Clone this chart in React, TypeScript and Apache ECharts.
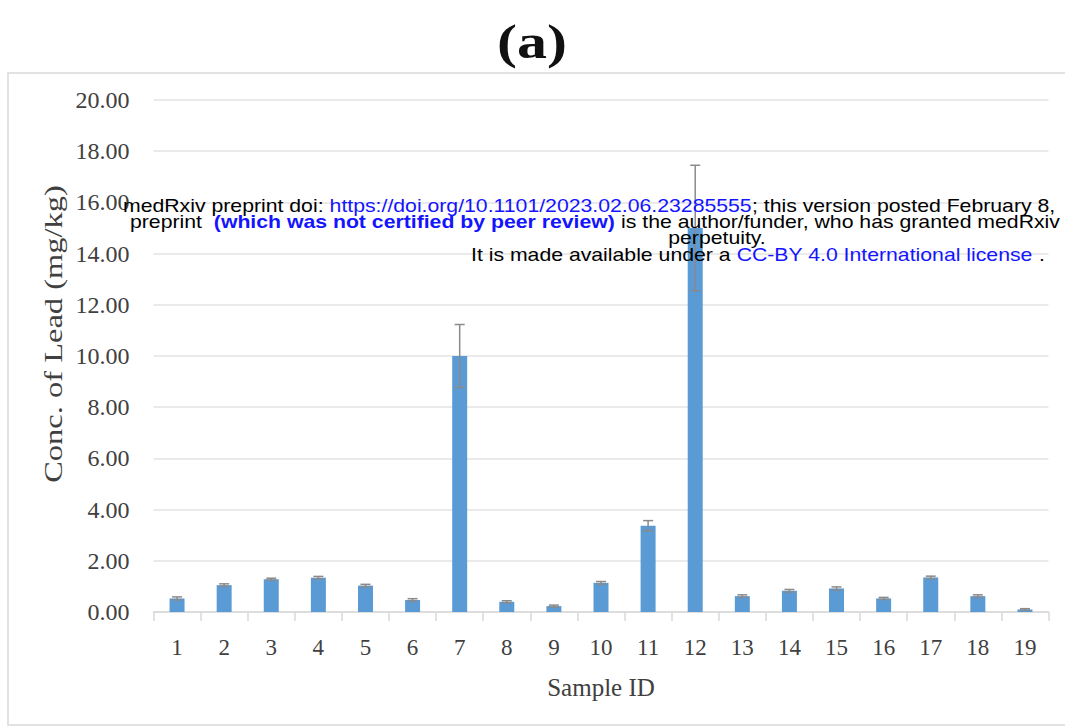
import React, { useEffect, useRef } from "react";
import * as echarts from "echarts";

const sampleIds = ["1","2","3","4","5","6","7","8","9","10","11","12","13","14","15","16","17","18","19"];
const leadConc = [0.53, 1.05, 1.28, 1.34, 1.03, 0.47, 10.0, 0.4, 0.23, 1.14, 3.37, 15.0, 0.62, 0.83, 0.92, 0.53, 1.35, 0.62, 0.1];
const leadErr = [0.06, 0.05, 0.04, 0.05, 0.05, 0.05, 1.23, 0.04, 0.04, 0.05, 0.2, 2.45, 0.05, 0.05, 0.06, 0.04, 0.05, 0.05, 0.03];
const yTicks = { min: 0, max: 20, interval: 2 };

const title = "(a)";
const xName = "Sample ID";
const yName = "Conc. of Lead (mg/kg)";

export default function App() {
  const ref = useRef<HTMLDivElement>(null);
  useEffect(() => {
    document.body.style.margin = "0";
    const chart = echarts.init(ref.current!, null, { renderer: "svg" });
    const serif = "'Liberation Serif', 'Times New Roman', serif";
    const sans = "'Liberation Sans', Arial, sans-serif";
    const blue = "#1414ff";
    const fs = 18;
    const sx = 1.18;
    chart.setOption({
      animation: false,
      backgroundColor: "#ffffff",
      grid: { left: 153.5, right: 16.5, top: 100, bottom: 115 },
      xAxis: {
        type: "category",
        data: sampleIds,
        name: xName,
        nameLocation: "middle",
        nameGap: 63,
        nameTextStyle: { fontFamily: serif, fontSize: 25, color: "#404040" },
        axisLine: { lineStyle: { color: "#d9d9d9", width: 1.5 } },
        axisTick: { show: true, length: 9, lineStyle: { color: "#d9d9d9", width: 1.5 } },
        axisLabel: { fontFamily: serif, fontSize: 23, color: "#404040", margin: 24 },
      },
      yAxis: {
        type: "value",
        min: yTicks.min,
        max: yTicks.max,
        interval: yTicks.interval,
        axisLine: { show: false },
        axisTick: { show: false },
        axisLabel: {
          fontFamily: serif,
          fontSize: 24,
          color: "#404040",
          margin: 24,
          formatter: (v: number) => v.toFixed(2),
        },
        splitLine: { lineStyle: { color: "#e3e3e3", width: 1.5 } },
      },
      series: [
        {
          type: "bar",
          data: leadConc,
          barWidth: 15,
          itemStyle: { color: "#5b9bd5" },
          z: 2,
        },
        {
          type: "custom",
          data: leadConc.map((v, i) => [i, v, leadErr[i]]),
          encode: { x: 0, y: 1 },
          z: 3,
          renderItem: (params: any, api: any) => {
            const x = api.value(0);
            const v = api.value(1);
            const e = api.value(2);
            const hi = api.coord([x, v + e]);
            const lo = api.coord([x, v - e]);
            const hw = 5;
            const st = { stroke: "#8a8a8a", lineWidth: 1.5 };
            return {
              type: "group",
              children: [
                { type: "line", shape: { x1: hi[0], y1: hi[1], x2: lo[0], y2: lo[1] }, style: st },
                { type: "line", shape: { x1: hi[0] - hw, y1: hi[1], x2: hi[0] + hw, y2: hi[1] }, style: st },
                { type: "line", shape: { x1: lo[0] - hw, y1: lo[1], x2: lo[0] + hw, y2: lo[1] }, style: st },
              ],
            };
          },
        },
      ],
      graphic: [
        {
          type: "rect",
          shape: { x: 8, y: 73, width: 1070, height: 652 },
          style: { fill: "none", stroke: "#d9d9d9", lineWidth: 1.5 },
          z: 0,
        },
        {
          type: "text",
          x: 532,
          y: 42,
          scaleX: 1.25,
          style: {
            text: title,
            font: `bold 48px ${serif}`,
            fill: "#111111",
            textAlign: "center",
            textVerticalAlign: "middle",
          },
          z: 10,
        },
        {
          type: "text",
          x: 53,
          y: 334,
          rotation: Math.PI / 2,
          scaleX: 1.3,
          style: {
            text: yName,
            font: `25px ${serif}`,
            fill: "#404040",
            textAlign: "center",
            textVerticalAlign: "middle",
          },
          z: 10,
        },
        {
          type: "text",
          x: 123,
          y: 206,
          scaleX: sx,
          z: 100,
          style: {
            text: "{k|medRxiv preprint doi: }{l|https://doi.org/10.1101/2023.02.06.23285555}{k|; this version posted February 8,}",
            textVerticalAlign: "middle",
            rich: {
              k: { fontFamily: sans, fontSize: fs, fill: "#000000", color: "#000000" },
              l: { fontFamily: sans, fontSize: fs, fill: blue, color: blue },
            },
          },
        },
        {
          type: "text",
          x: 130,
          y: 222,
          scaleX: sx,
          z: 100,
          style: {
            text: "{k|preprint  }{b|(which was not certified by peer review)}{k| is the author/funder, who has granted medRxiv}",
            textVerticalAlign: "middle",
            rich: {
              k: { fontFamily: sans, fontSize: fs, fill: "#000000", color: "#000000" },
              b: { fontFamily: sans, fontSize: fs, fontWeight: "bold", fill: blue, color: blue },
            },
          },
        },
        {
          type: "text",
          x: 717,
          y: 238,
          scaleX: sx,
          z: 100,
          style: {
            text: "perpetuity.",
            textAlign: "center",
            textVerticalAlign: "middle",
            font: `${fs}px ${sans}`,
            fill: "#000000",
          },
        },
        {
          type: "text",
          x: 471,
          y: 255,
          scaleX: sx,
          z: 100,
          style: {
            text: "{k|It is made available under a }{l|CC-BY 4.0 International license}{k| .}",
            textVerticalAlign: "middle",
            rich: {
              k: { fontFamily: sans, fontSize: fs, fill: "#000000", color: "#000000" },
              l: { fontFamily: sans, fontSize: fs, fill: blue, color: blue },
            },
          },
        },
      ],
    });
    return () => chart.dispose();
  }, []);
  return <div ref={ref} style={{ width: 1065, height: 727 }} />;
}
